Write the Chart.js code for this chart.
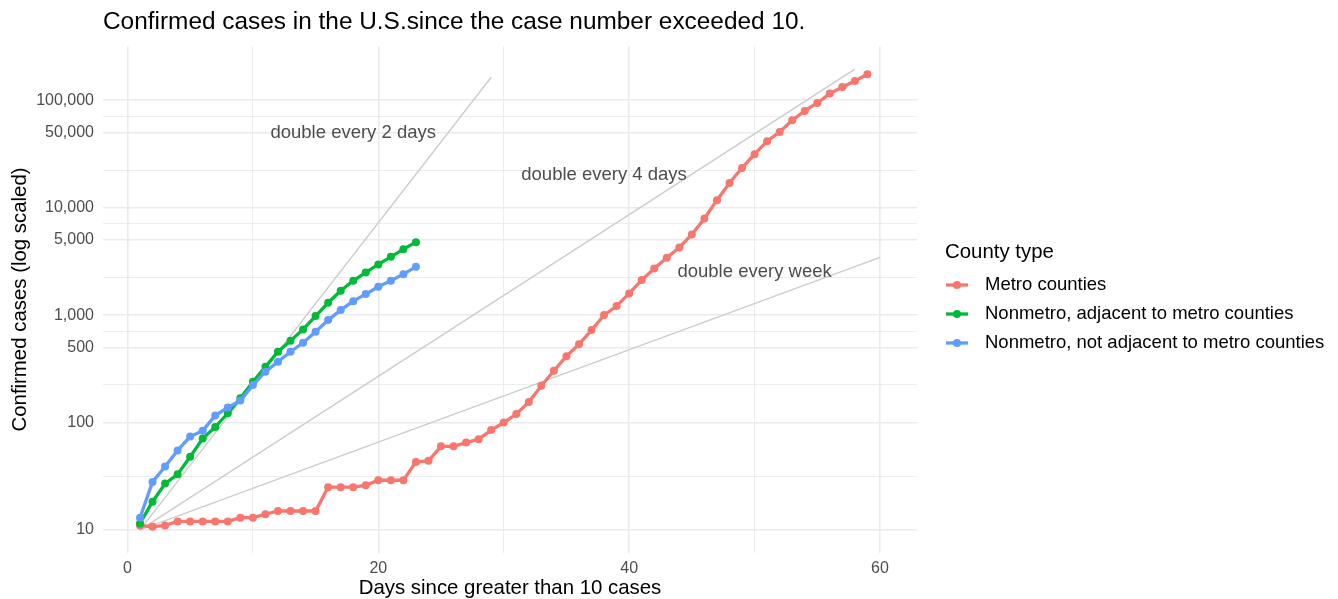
<!DOCTYPE html>
<html><head><meta charset="utf-8">
<script src="https://cdn.jsdelivr.net/npm/chart.js@4"></script>
<style>html,body{margin:0;padding:0;background:#fff;}#wrap{width:1338px;height:599px;position:relative}</style>
</head><body><div id="wrap"><canvas id="c" width="1338" height="599"></canvas></div>
<script>
// ---- data ----
const metroDays = [1,2,3,4,5,6,7,8,9,10,11,12,13,14,15,16,17,18,19,20,21,22,23,24,25,26,27,28,29,30,31,32,33,34,35,36,37,38,39,40,41,42,43,44,45,46,47,48,49,50,51,52,53,54,55,56,57,58,59];
const metroCases = [11,10.7,11,12,12,12,12,12,13,13,14,15,15,15,15,25,25,25,26,29,29,29,43,44,60,60,65,70,85,100,120,155,220,303,415,534,725,1000,1213,1592,2118,2718,3412,4265,5636,7940,11750,17000,23460,31470,41570,50700,65160,79570,94400,115400,133000,151300,174600];
const adjDays = [1,2,3,4,5,6,7,8,9,10,11,12,13,14,15,16,17,18,19,20,21,22,23];
const adjCases = [11.5,18.3,27,33,48,71,91,122,168,240,330,456,577,736,979,1303,1683,2085,2494,2965,3485,4111,4777];
const nonAdjDays = [1,2,3,4,5,6,7,8,9,10,11,12,13,14,15,16,17,18,19,20,21,22,23];
const nonAdjCases = [13,28,39,55,74,84,116,138,160,223,297,368,456,552,700,898,1113,1349,1568,1834,2085,2405,2814];
const seriesNames = ['Metro counties','Nonmetro, adjacent to metro counties','Nonmetro, not adjacent to metro counties'];
const seriesColors = ['#F8766D','#00BA38','#619CFF'];

const refLabels = ['double every 2 days','double every 4 days','double every week'];
const refStartDay = [1,1,1];
const refStartCases = [10,10,10];
const refEndDay = [29,58,60];
const refEndCases = [163840,194800,3446];
const refLabelDays = [18,38,50];
const refLabelCases = [50000,20000,2500];

const xMajorTicks = [0,20,40,60];
const xMinorTicks = [10,30,50];
const yMajorTicks = [10,100,500,1000,5000,10000,50000,100000];
const yMinorTicks = [31.62,223.6,707.1,2236,7071,22360,70711];

const FONT = '"Liberation Sans", Arial, Helvetica, sans-serif';

function pts(xs, ys){ return xs.map((x,i)=>({x:x, y:ys[i]})); }

const datasets = [
  {label:seriesNames[2], data:pts(nonAdjDays,nonAdjCases), borderColor:seriesColors[2], backgroundColor:seriesColors[2], order:0},
  {label:seriesNames[1], data:pts(adjDays,adjCases), borderColor:seriesColors[1], backgroundColor:seriesColors[1], order:1},
  {label:seriesNames[0], data:pts(metroDays,metroCases), borderColor:seriesColors[0], backgroundColor:seriesColors[0], order:2}
].map(d=>Object.assign(d,{borderWidth:3.3, pointRadius:4, pointBorderWidth:0, pointBackgroundColor:d.borderColor, tension:0, fill:false}));
refLabels.forEach((lab,i)=>{
  datasets.push({label:lab, data:[{x:refStartDay[i],y:refStartCases[i]},{x:refEndDay[i],y:refEndCases[i]}],
    borderColor:'#CCCCCC', borderWidth:1.4, pointRadius:0, tension:0, fill:false, order:3});
});

const deco = {
  id:'deco',
  afterDatasetsDraw(chart){
    const c = chart.ctx, xs = chart.scales.x, ys = chart.scales.y;
    c.save();
    c.font = '18.5px ' + FONT; c.fillStyle = '#4D4D4D'; c.textAlign='center'; c.textBaseline='middle';
    refLabels.forEach((lab,i)=>{ c.fillText(lab, xs.getPixelForValue(refLabelDays[i]), ys.getPixelForValue(refLabelCases[i])); });
    c.restore();
  },
  afterDraw(chart){
    const c = chart.ctx, a = chart.chartArea;
    c.save();
    c.fillStyle = '#000'; c.textBaseline='middle';
    c.font = '24.4px ' + FONT; c.textAlign='left';
    c.fillText('Confirmed cases in the U.S.since the case number exceeded 10.', a.left, 22);
    c.font = '20.4px ' + FONT; c.textAlign='center';
    c.fillText('Days since greater than 10 cases', (a.left+a.right)/2, 588);
    c.save(); c.translate(20,(a.top+a.bottom)/2); c.rotate(-Math.PI/2);
    c.fillText('Confirmed cases (log scaled)', 0, 0); c.restore();
    // legend
    c.textAlign='left';
    c.fillText('County type', 945, 252);
    c.font = '18.5px ' + FONT;
    const ly = [285,314,343];
    seriesNames.forEach((n,i)=>{
      c.strokeStyle = seriesColors[i]; c.lineWidth = 3.3;
      c.beginPath(); c.moveTo(946, ly[i]); c.lineTo(968, ly[i]); c.stroke();
      c.fillStyle = seriesColors[i];
      c.beginPath(); c.arc(957, ly[i], 4, 0, Math.PI*2); c.fill();
      c.fillStyle = '#000';
      c.fillText(n, 985, ly[i]);
    });
    c.restore();
  }
};

new Chart(document.getElementById('c').getContext('2d'), {
  type:'line',
  data:{datasets},
  options:{
    responsive:false, animation:false, devicePixelRatio:1,
    layout:{padding:{left:0,right:421,top:46,bottom:0}},
    plugins:{legend:{display:false}, tooltip:{enabled:false}, title:{display:false}},
    scales:{
      x:{type:'linear', min:-1.95, max:62.95,
        border:{display:false},
        grid:{drawTicks:false, color:'#EBEBEB', lineWidth:(ctx)=> xMajorTicks.includes(ctx.tick && ctx.tick.value) ? 1.6 : 0.9},
        ticks:{padding:6, autoSkip:false, maxRotation:0, color:'#4D4D4D', font:{family:FONT, size:16},
          callback:(v)=> xMajorTicks.includes(v) ? String(v) : ''},
        afterBuildTicks:(s)=>{ s.ticks = xMajorTicks.concat(xMinorTicks).sort((a,b)=>a-b).map(v=>({value:v})); },
        afterFit:(s)=>{ s.height = 46; }
      },
      y:{type:'logarithmic', min:6.1, max:320000,
        border:{display:false},
        grid:{drawTicks:false, color:'#EBEBEB', lineWidth:(ctx)=> yMajorTicks.includes(ctx.tick && ctx.tick.value) ? 1.6 : 0.9},
        ticks:{padding:9, autoSkip:false, color:'#4D4D4D', font:{family:FONT, size:16},
          callback:(v)=> yMajorTicks.includes(v) ? v.toLocaleString('en-US') : ''},
        afterBuildTicks:(s)=>{ s.ticks = yMajorTicks.concat(yMinorTicks).sort((a,b)=>a-b).map(v=>({value:v})); },
        afterFit:(s)=>{ s.width = 103; }
      }
    }
  },
  plugins:[deco]
});
</script></body></html>
